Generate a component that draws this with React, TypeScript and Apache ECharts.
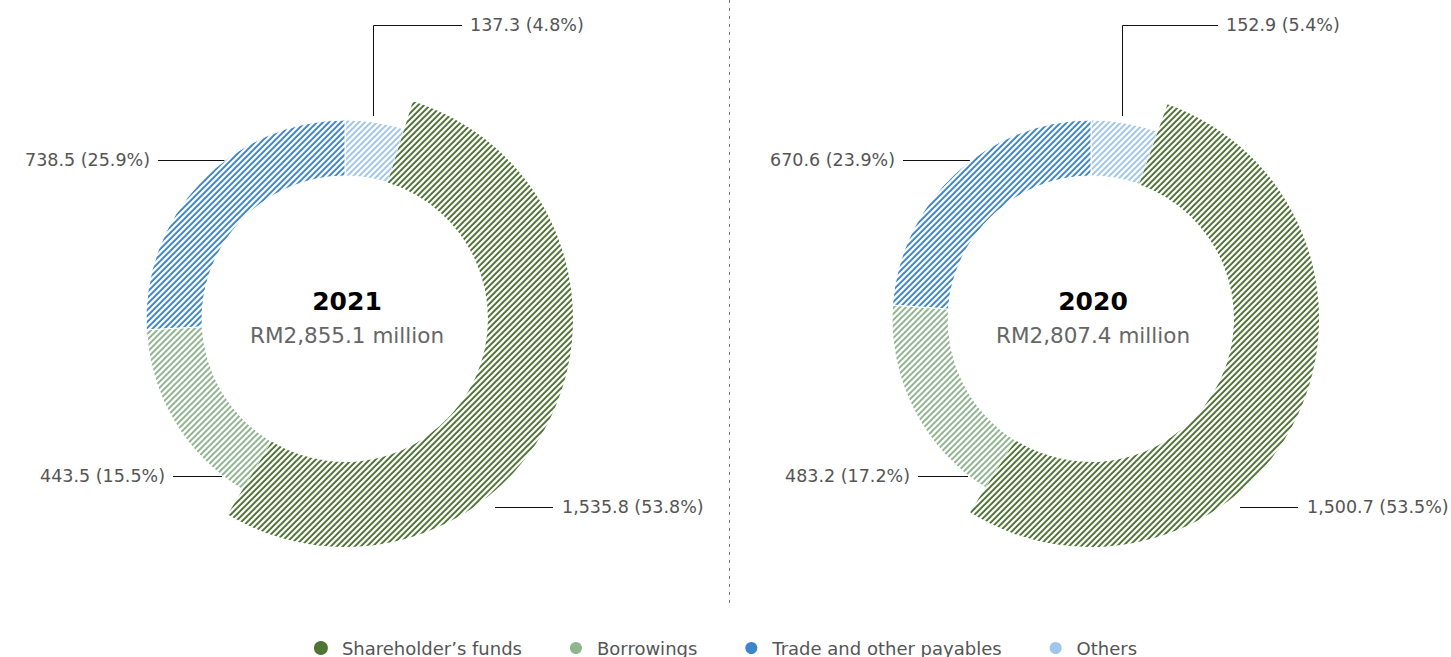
import React, { useEffect, useRef } from "react";
import * as echarts from "echarts";

const CATEGORIES = ["Others", "Shareholder\u2019s funds", "Borrowings", "Trade and other payables"];
const LEGEND_ORDER = ["Shareholder\u2019s funds", "Borrowings", "Trade and other payables", "Others"];
const COLORS = ["#9fc6ec", "#4f7534", "#8fb58d", "#3d86cc"];
const YEARS = ["2021", "2020"];
const VALUES_2021 = [137.3, 1535.8, 443.5, 738.5];
const VALUES_2020 = [152.9, 1500.7, 483.2, 670.6];
const SERIES_VALUES = [VALUES_2021, VALUES_2020];

const CENTERS = [
  [345, 319],
  [1091, 319],
];

// label layouts per donut, per slice index: [x, y, align, linePoints]
const LABEL_LAYOUTS: any[][] = [
  [
    [470, 25, "left", [[373.5, 116], [373.5, 25.5], [462, 25.5]]],
    [562, 507, "left", [[495, 507.5], [553, 507.5]]],
    [165, 476, "right", [[222, 476.5], [173, 476.5]]],
    [150, 160, "right", [[225, 160.5], [158, 160.5]]],
  ],
  [
    [1226, 25, "left", [[1122.5, 116], [1122.5, 25.5], [1218, 25.5]]],
    [1307, 507, "left", [[1240, 507.5], [1298, 507.5]]],
    [910, 476, "right", [[968, 476.5], [918, 476.5]]],
    [895, 160, "right", [[970, 160.5], [903, 160.5]]],
  ],
];

const FONT = "'DejaVu Sans', 'Open Sans', sans-serif";

function makePattern(color: string) {
  const N = 6;
  const w = 2.6;
  const S = 4;
  const c = document.createElement("canvas");
  c.width = N;
  c.height = N;
  const ctx = c.getContext("2d")!;
  const img = ctx.createImageData(N, N);
  const hex = color.replace("#", "");
  const r = parseInt(hex.slice(0, 2), 16);
  const g = parseInt(hex.slice(2, 4), 16);
  const b = parseInt(hex.slice(4, 6), 16);
  for (let y = 0; y < N; y++) {
    for (let x = 0; x < N; x++) {
      let cov = 0;
      for (let sy = 0; sy < S; sy++) {
        for (let sx = 0; sx < S; sx++) {
          const px = x + (sx + 0.5) / S;
          const py = y + (sy + 0.5) / S;
          if ((px + py) % N < w) cov++;
        }
      }
      const f = cov / (S * S);
      const i = (y * N + x) * 4;
      img.data[i] = Math.round(255 + (r - 255) * f);
      img.data[i + 1] = Math.round(255 + (g - 255) * f);
      img.data[i + 2] = Math.round(255 + (b - 255) * f);
      img.data[i + 3] = 255;
    }
  }
  ctx.putImageData(img, 0, 0);
  return { image: c, repeat: "repeat", imageWidth: N, imageHeight: N } as any;
}

function fmtValue(v: number) {
  return v.toLocaleString("en-US", { minimumFractionDigits: 1, maximumFractionDigits: 1 });
}

export default function App() {
  const ref = useRef<HTMLDivElement>(null);

  useEffect(() => {
    document.body.style.margin = "0";
    const chart = echarts.init(ref.current!, undefined, { renderer: "svg" });
    const patterns = COLORS.map(makePattern);

    const series: any[] = [];
    const graphics: any[] = [];

    SERIES_VALUES.forEach((vals, k) => {
      const center = CENTERS[k];
      const layouts = LABEL_LAYOUTS[k];
      const total = vals.reduce((a, b) => a + b, 0);
      series.push({
        type: "pie",
        name: YEARS[k] + "-ring",
        center,
        radius: [143, 199],
        startAngle: 90,
        clockwise: true,
        avoidLabelOverlap: false,
        silent: true,
        itemStyle: { borderColor: "#ffffff", borderWidth: 1 },
        label: {
          show: true,
          color: "#555555",
          fontFamily: FONT,
          fontSize: 17.5,
          formatter: (p: any) =>
            fmtValue(p.value) + " (" + ((p.value / total) * 100).toFixed(1) + "%)",
        },
        labelLine: { show: true, lineStyle: { color: "#111111", width: 1 } },
        labelLayout: (p: any) => {
          const l = layouts[p.dataIndex];
          return {
            x: l[0],
            y: l[1],
            align: l[2],
            verticalAlign: "middle",
            labelLinePoints: l[3],
          };
        },
        emphasis: { disabled: true },
        data: CATEGORIES.map((name, i) => ({
          name,
          value: vals[i],
          itemStyle: i === 1 ? { color: "rgba(0,0,0,0)", borderWidth: 0 } : { color: patterns[i] },
        })),
      });
      series.push({
        type: "pie",
        name: YEARS[k] + "-main",
        center,
        radius: [143, 228],
        startAngle: 90,
        clockwise: true,
        silent: true,
        label: { show: false },
        labelLine: { show: false },
        emphasis: { disabled: true },
        data: CATEGORIES.map((name, i) => ({
          name,
          value: vals[i],
          itemStyle: i === 1 ? { color: patterns[i] } : { color: "rgba(0,0,0,0)" },
        })),
      });

      graphics.push({
        type: "text",
        x: center[0] + 2,
        y: 301,
        style: {
          text: YEARS[k],
          fontFamily: FONT,
          fontWeight: "bold",
          fontSize: 25,
          fill: "#000000",
          align: "center",
          verticalAlign: "middle",
        },
      });
      graphics.push({
        type: "text",
        x: center[0] + 2,
        y: 335,
        style: {
          text: "RM" + fmtValue(total) + " million",
          fontFamily: FONT,
          fontSize: 21.5,
          fill: "#666666",
          align: "center",
          verticalAlign: "middle",
        },
      });
    });

    graphics.push({
      type: "line",
      shape: { x1: 729.5, y1: 0, x2: 729.5, y2: 603 },
      style: { stroke: "#777777", lineWidth: 1, lineDash: [3, 5] },
    });

    chart.setOption({
      animation: false,
      backgroundColor: "#ffffff",
      legend: {
        top: 634,
        left: "center",
        icon: "circle",
        itemWidth: 14,
        itemHeight: 14,
        itemGap: 46,
        selectedMode: false,
        textStyle: {
          color: "#555555",
          fontFamily: FONT,
          fontSize: 18,
          padding: [0, 0, 0, 9],
        },
        data: LEGEND_ORDER.map((name) => ({
          name,
          itemStyle: { color: COLORS[CATEGORIES.indexOf(name)], decal: "none" },
        })),
      },
      graphic: graphics,
      series,
    });

    return () => chart.dispose();
  }, []);

  return <div ref={ref} style={{ width: 1451, height: 657 }} />;
}
